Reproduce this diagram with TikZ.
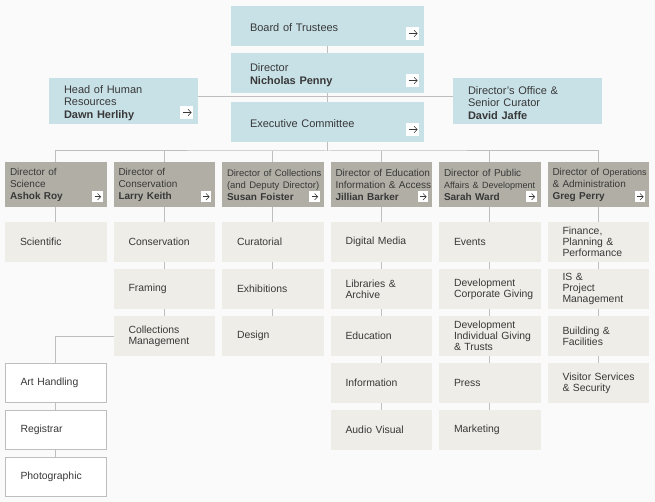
\documentclass[tikz,border=0pt]{standalone}
\usepackage{fontspec}
\setmainfont{Liberation Sans}
\usetikzlibrary{arrows.meta}

\definecolor{pagebg}{HTML}{FAFAFA}
\definecolor{topblue}{HTML}{C8E1E7}
\definecolor{dirgray}{HTML}{B1AEA5}
\definecolor{subfill}{HTML}{EEEDE8}
\definecolor{linegray}{HTML}{BEBEBE}
\definecolor{ink}{HTML}{383838}

\newcommand\topsize{\fontsize{11}{12.3}\selectfont}
\newcommand\dirsize{\fontsize{10}{12}\selectfont}
\newcommand\dirsmall{\fontsize{9}{12}\selectfont}
\newcommand\subsize{\fontsize{10.4}{11}\selectfont}
\hyphenpenalty=10000
\exhyphenpenalty=10000

\begin{document}
\begin{tikzpicture}[x=1pt,y=-1pt,
    link/.style={draw=linegray,line width=1pt},
    box/.style={inner ysep=0pt,outer sep=0pt,align=left,text=ink},
    topbox/.style={box,fill=topblue,font=\topsize,inner xsep=19pt,text width=155pt,minimum height=40pt,
        execute at begin node={\rule{0pt}{12pt}}},
    sidebox/.style={topbox,inner xsep=15pt,text width=119pt,minimum height=46pt},
    dirbox/.style={box,fill=dirgray,font=\dirsize,inner xsep=5pt,text width=91.5pt,minimum height=45pt,
        execute at begin node={\rule{0pt}{9pt}}},
    subbox/.style={box,fill=subfill,font=\subsize,inner xsep=15pt,text width=71.5pt,minimum height=40pt},
    unitbox/.style={subbox,fill=white,draw=linegray,line width=1pt,text width=70.5pt,minimum height=39pt},
    go/.style={fill=white,inner sep=0pt,outer sep=0pt,minimum size=#1,
        path picture={\draw[ink,line width=0.6pt,-{Straight Barb[length=3pt,width=6.5pt]}]
            ([xshift=2.5pt]path picture bounding box.west) -- ([xshift=-1.5pt]path picture bounding box.east);}},
    go/.default=13pt]

% Page
\fill[pagebg] (0,0) rectangle (655,502);

% Board and directorate
\node[topbox] (board) at (327.5,26) {Board of Trustees};
\node[topbox] (director) at (327.5,73) {Director\\\textbf{Nicholas Penny}};
\node[topbox] (exec) at (327.5,122) {Executive Committee};
\node[sidebox] (hr) at (123.5,101) {Head of Human\\Resources\\\textbf{Dawn Herlihy}};
\node[sidebox] (office) at (527.5,101) {Director’s Office \&\\Senior Curator\\\textbf{David Jaffe}};

\node[go,anchor=south east] (board-go) at ([xshift=-5pt,yshift=6pt]board.south east) {};
\node[go,anchor=south east] (director-go) at ([xshift=-5pt,yshift=6pt]director.south east) {};
\node[go,anchor=south east] (exec-go) at ([xshift=-5pt,yshift=6pt]exec.south east) {};
\node[go,anchor=south east] (hr-go) at ([xshift=-5pt,yshift=5pt]hr.south east) {};

% Directors
\node[dirbox] (d1) at (55.75,184.5) {Director~of\\Science\\\textbf{Ashok~Roy}};
\node[dirbox] (d2) at (164.25,184.5) {Director~of\\Conservation\\\textbf{Larry~Keith}};
\node[dirbox] (d3) at (272.75,184.5) {\fontsize{9.5}{12}\selectfont Director~of~Collections\\(and~Deputy~Director)\\\dirsize\textbf{Susan~Foister}};
\node[dirbox] (d4) at (381.25,184.5) {Director~of~Education\\Information~\&~Access\\\textbf{Jillian~Barker}};
\node[dirbox] (d5) at (489.75,184.5) {Director~of~Public\\{\dirsmall Affairs~\&~Development}\\\textbf{Sarah~Ward}};
\node[dirbox] (d6) at (598.25,184.5) {Director~of~{\dirsmall Operations}\\\&~Administration\\\textbf{Greg~Perry}};

\foreach \c in {1,...,6}
    \node[go=10.5pt,anchor=south east] (d\c-go) at ([xshift=-4pt,yshift=5pt]d\c.south east) {};

% Departments
\foreach \t [count=\r] in {Scientific}
    \node[subbox] (s1\r) at (55.75,195+47*\r) {\t};
\foreach \t [count=\r] in {Conservation,Framing,{Collections\\Management}}
    \node[subbox] (s2\r) at (164.25,195+47*\r) {\t};
\foreach \t [count=\r] in {Curatorial,Exhibitions,Design}
    \node[subbox] (s3\r) at (272.75,195+47*\r) {\t};
\foreach \t [count=\r] in {Digital~Media,{Libraries~\&\\Archive},Education,Information,Audio~Visual}
    \node[subbox] (s4\r) at (381.25,195+47*\r) {\t};
\foreach \t [count=\r] in {Events,{Development\\Corporate~Giving},{Development\\Individual~Giving\\\&~Trusts},Press,Marketing}
    \node[subbox] (s5\r) at (489.75,195+47*\r) {\t};
\foreach \t [count=\r] in {{Finance,\\Planning~\&\\Performance},{IS~\&\\Project\\Management},{Building~\&\\Facilities},{Visitor~Services\\\&~Security}}
    \node[subbox] (s6\r) at (598.25,195+47*\r) {\t};

% Collections management units
\node[unitbox] (h1) at (55.75,383) {Art~Handling};
\node[unitbox] (h2) at (55.75,430) {Registrar};
\node[unitbox] (h3) at (55.75,477) {Photographic};

% Connectors
\coordinate (bus) at (327.5,151);
\draw[link] (board.south) -- (director.north);
\draw[link] (director.south) -- (exec.north);
\draw[link] ([yshift=4pt]hr.east) -- ([yshift=4pt]office.west);
\draw[link] (exec.south) -- (bus);
\draw[link] (d1.north) |- (bus) -| (d6.north);
\foreach \c in {2,...,5}
    \draw[link] (d\c.north) -- (d\c.north |- bus);
\foreach \c in {1,...,6}
    \draw[link] (d\c.south) -- (s\c1.north);
\foreach \c/\n in {2/3,3/3,4/5,5/5,6/4}
    \foreach \r in {2,...,\n} {
        \pgfmathtruncatemacro\p{\r-1}
        \draw[link] (s\c\p.south) -- (s\c\r.north);
    }
\draw[link] (s23.west) -| (h1.north);
\draw[link] (h1.south) -- (h2.north);
\draw[link] (h2.south) -- (h3.north);
\end{tikzpicture}
\end{document}
